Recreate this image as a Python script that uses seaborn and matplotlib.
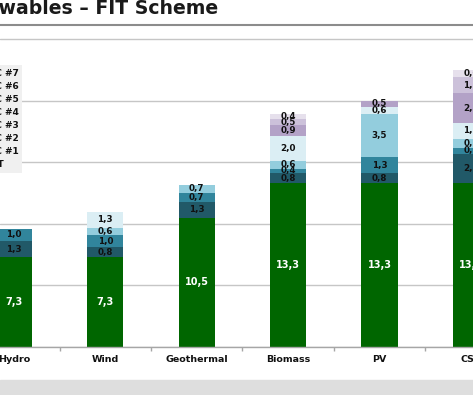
import matplotlib
matplotlib.use("Agg")
import matplotlib.pyplot as plt
import seaborn as sns
import numpy as np
from matplotlib.patches import Patch, Rectangle
from matplotlib.lines import Line2D

categories = ["Hydro", "Wind", "Geothermal", "Biomass", "PV", "CSP"]
fit = [7.3, 7.3, 10.5, 13.3, 13.3, 13.3]
c1 = [1.3, 0.8, 1.3, 0.8, 0.8, 2.4]
c2 = [1.0, 1.0, 0.7, 0.4, 1.3, 0.5]
c3 = [0.0, 0.6, 0.7, 0.6, 3.5, 0.7]
c4 = [0.0, 1.3, 0.0, 2.0, 0.6, 1.3]
c5 = [0.0, 0.0, 0.0, 0.9, 0.5, 2.4]
c6 = [0.0, 0.0, 0.0, 0.5, 0.0, 1.3]
c7 = [0.0, 0.0, 0.0, 0.4, 0.0, 0.6]
series_names = ["FIT", "TC #1", "TC #2", "TC #3", "TC #4", "TC #5", "TC #6", "TC #7"]
colors = ["#006600", "#215968", "#31859c", "#93cddd", "#dbeef4",
          "#b3a2c7", "#ccc1da", "#e6e0ec"]
title = "Renewables \u2013 FIT Scheme"

sns.set_theme(style="white")
plt.rcParams['font.family'] = ['DejaVu Sans']

layers = [fit, c1, c2, c3, c4, c5, c6, c7]
data = np.array(layers)
cum = np.cumsum(data, axis=0)

fig = plt.figure(figsize=(4.73, 3.95), dpi=100)
px = 12.31
base_px = 347
top_units = 25.5
ax = fig.add_axes([0, (395 - base_px) / 395, 1, top_units * px / 395])

for k in range(len(layers) - 1, -1, -1):
    sns.barplot(x=categories, y=cum[k], color=colors[k], width=0.394,
                saturation=1, errorbar=None, linewidth=0, ax=ax, zorder=2)

xlim = (-13.9 / 91.4, (473 - 13.9) / 91.4)
ax.set_yticks([0, 5, 10, 15, 20, 25])
ax.set_yticklabels([])
ax.tick_params(axis='y', length=0)
ax.yaxis.grid(True, color="#c6c6c6", linewidth=1)
ax.xaxis.grid(False)
ax.set_axisbelow(True)
for s in ["top", "right", "left"]:
    ax.spines[s].set_visible(False)
ax.spines["bottom"].set_color("#a6a6a6")
ax.spines["bottom"].set_linewidth(1)
ax.set_xticks(range(len(categories)))
ax.set_xticklabels(categories, fontsize=6.8, fontweight="bold", color="#111111")
ax.tick_params(axis='x', which='major', length=0, pad=6)
ax.set_xticks(np.arange(len(categories) - 1) + 0.5, minor=True)
ax.tick_params(axis='x', which='minor', length=3, color="#a6a6a6", width=1, bottom=True)
ax.set_xlabel("")
ax.set_ylabel("")
ax.set_xlim(*xlim)
ax.set_ylim(0, top_units)

# value labels
for i in range(len(categories)):
    bottom = 0.0
    for k, layer in enumerate(layers):
        v = layer[i]
        if v > 0:
            txt = f"{v:.1f}".replace(".", ",")
            col = "white" if k == 0 else "#111111"
            fs = 7 if k == 0 else 6.3
            ax.text(i, bottom + v / 2, txt, ha="center", va="center",
                    fontsize=fs, fontweight="bold", color=col, zorder=5)
        bottom += v

# legend
handles = [Patch(facecolor=c, edgecolor="none") for c in colors]
leg = fig.legend(handles[::-1], series_names[::-1], loc="upper right",
                 bbox_to_anchor=(22 / 473, 1 - 65 / 395), borderaxespad=0,
                 frameon=True, fancybox=False, facecolor="#f0f0f0",
                 edgecolor="none", framealpha=1,
                 prop={"weight": "bold", "size": 6.5}, labelspacing=0.45,
                 handlelength=1.0, handleheight=0.7, handletextpad=0.5)
for t in leg.get_texts():
    t.set_color("#111111")

# slide decorations
fig.add_artist(Line2D([0, 1], [1 - 25 / 395] * 2, color="#8c8c8c", lw=1.5,
                      transform=fig.transFigure))
fig.add_artist(Rectangle((0, 0), 1, 15 / 395, color="#dedede",
                         transform=fig.transFigure, zorder=0))
fig.text(218 / 473, 1 - 14 / 395, title, ha="right", va="baseline",
         fontsize=13.6, fontweight="bold", color="#1a1a1a")

fig.savefig("out.png", dpi=100)
